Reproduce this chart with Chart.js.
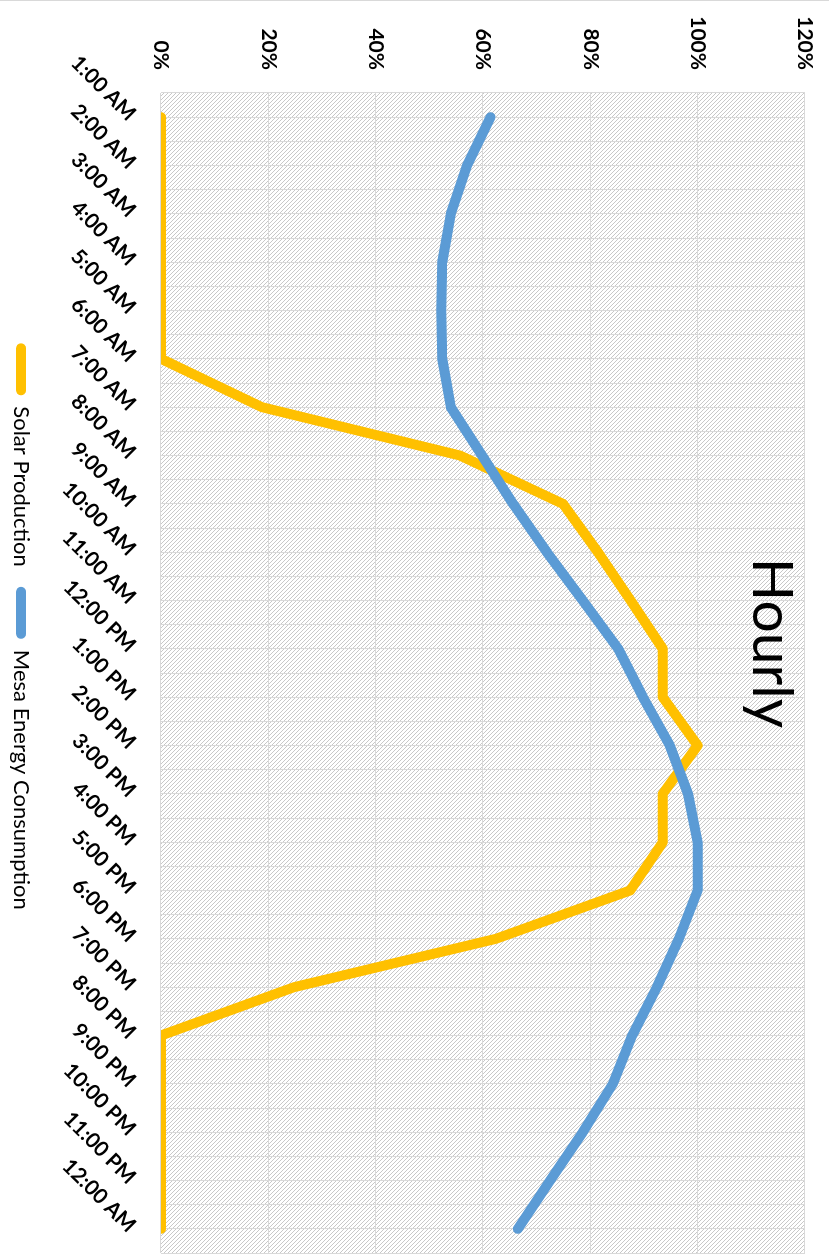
<!DOCTYPE html>
<html>
<head>
<meta charset="utf-8">
<script src="https://cdn.jsdelivr.net/npm/chart.js@4.4.1/dist/chart.umd.min.js"></script>
<style>
  html, body { margin: 0; padding: 0; background: #fff; }
  body { width: 829px; height: 1254px; overflow: hidden; position: relative; }
  /* chart is drawn landscape, then turned a quarter clockwise */
  #frame {
    position: absolute; left: 0; top: 0;
    width: 1254px; height: 829px;
    transform-origin: 0 0;
    transform: translate(829px, 0) rotate(90deg);
  }
  #frame::before {
    content: ''; position: absolute; left: 0; top: 0;
    width: 1px; height: 100%; background: #d9d9d9;
  }
  #frame canvas { display: block; }
</style>
</head>
<body>
<div id="frame"><canvas id="hourlyChart" width="1254" height="829"></canvas></div>
<script>
// ---- Data ----
const hours = [
  '1:00 AM', '2:00 AM', '3:00 AM', '4:00 AM', '5:00 AM', '6:00 AM',
  '7:00 AM', '8:00 AM', '9:00 AM', '10:00 AM', '11:00 AM', '12:00 PM',
  '1:00 PM', '2:00 PM', '3:00 PM', '4:00 PM', '5:00 PM', '6:00 PM',
  '7:00 PM', '8:00 PM', '9:00 PM', '10:00 PM', '11:00 PM', '12:00 AM'
];
const solarProduction = [
  0, 0, 0, 0, 0, 0, 18.8, 55.7, 74.9, 81.4, 87.5, 93.5,
  93.5, 100, 93.5, 93.5, 87.4, 62.4, 24.8, 0, 0, 0, 0, 0
];
const mesaConsumption = [
  61.4, 57.0, 54.0, 52.4, 52.2, 52.4, 54.0, 59.8, 65.6, 71.9, 78.6, 85.2,
  89.8, 94.8, 98.2, 100, 100, 96.5, 92.4, 87.8, 84.2, 78.6, 72.5, 66.5
];
const pctTicks = [0, 20, 40, 60, 80, 100, 120];

// ---- Palette ----
const C = {
  solar: '#FFC000',
  mesa:  '#5B9BD5',
  grid:  '#D9D9D9',
  hatch: '#C8C8C8',
  text:  '#000000'
};
const FONT = "Lato, 'Open Sans', sans-serif";
const H = 829;
const PLOT_BOTTOM = 668;   // where 0% sits in the landscape layout

function hatchPattern(ctx) {
  const tile = document.createElement('canvas');
  tile.width = tile.height = 4;
  const g = tile.getContext('2d');
  g.fillStyle = C.hatch;
  for (let i = 0; i < 4; i++) g.fillRect(i, i, 1, 1);
  return ctx.createPattern(tile, 'repeat');
}

// plot area fill + overlay title
const plotFill = {
  id: 'plotFill',
  beforeDraw(chart) {
    const { ctx, chartArea: a } = chart;
    ctx.save();
    ctx.fillStyle = hatchPattern(ctx);
    ctx.fillRect(a.left, a.top, a.right - a.left, a.bottom - a.top);
    ctx.restore();
  }
};
const overlayTitle = {
  id: 'overlayTitle',
  afterDraw(chart) {
    const { ctx } = chart;
    ctx.save();
    ctx.font = `57px ${FONT}`;
    ctx.fillStyle = C.text;
    ctx.textAlign = 'center';
    ctx.textBaseline = 'alphabetic';
    ctx.fillText('Hourly', 643, 76);
    ctx.restore();
  }
};

function series(label, color, data, order) {
  return {
    label, data, order,
    borderColor: color,
    backgroundColor: color,
    borderWidth: 10,
    borderCapStyle: 'round',
    borderJoinStyle: 'round',
    tension: 0,
    pointRadius: 0,
    pointHoverRadius: 0,
    fill: false,
    xAxisID: 'x', yAxisID: 'y'
  };
}

new Chart(document.getElementById('hourlyChart'), {
  type: 'line',
  data: {
    labels: hours,
    datasets: [
      series('Solar Production', C.solar, solarProduction, 1),
      series('Mesa Energy Consumption', C.mesa, mesaConsumption, 0)
    ]
  },
  options: {
    responsive: false,
    animation: false,
    layout: { padding: { top: 24, right: 1, left: 0, bottom: 0 } },
    plugins: {
      title: { display: false },
      tooltip: { enabled: false },
      legend: {
        position: 'bottom',
        labels: {
          boxWidth: 52, boxHeight: 10,
          useBorderRadius: true, borderRadius: 5,
          padding: 20,
          color: C.text,
          font: { size: 22, family: FONT },
          sort: (a, b) => a.datasetIndex - b.datasetIndex,
          generateLabels(ch) {
            return Chart.defaults.plugins.legend.labels.generateLabels(ch).map(it => ({
              ...it, lineWidth: 0, fillStyle: ch.data.datasets[it.datasetIndex].borderColor
            }));
          }
        }
      }
    },
    scales: {
      x: {
        type: 'category',
        offset: true,
        grid: { offset: false, color: C.grid, drawTicks: false },
        border: { display: false },
        afterFit: s => {
          s.height = H - PLOT_BOTTOM - s.chart.legend.height;
          s.paddingRight = 0;
        },
        ticks: {
          autoSkip: false, maxRotation: 45, minRotation: 45,
          padding: 20, color: C.text,
          font: { size: 21, weight: 'bold', family: FONT }
        }
      },
      // second category axis only for the gridlines between hours
      x2: {
        type: 'category',
        labels: hours,
        offset: true,
        position: 'bottom',
        grid: { offset: true, color: C.grid, drawTicks: false },
        border: { display: false },
        ticks: { display: false }
      },
      y: {
        min: pctTicks[0],
        max: pctTicks[pctTicks.length - 1],
        grid: { color: C.grid, drawTicks: false },
        border: { display: false },
        afterFit: s => { s.width = 93; s.paddingTop = 0; s.paddingBottom = 0; },
        ticks: {
          stepSize: pctTicks[1] - pctTicks[0],
          padding: 23, color: C.text,
          font: { size: 21, weight: 'bold', family: FONT },
          callback: v => v + '%'
        }
      }
    }
  },
  plugins: [plotFill, overlayTitle]
});
</script>
</body>
</html>
